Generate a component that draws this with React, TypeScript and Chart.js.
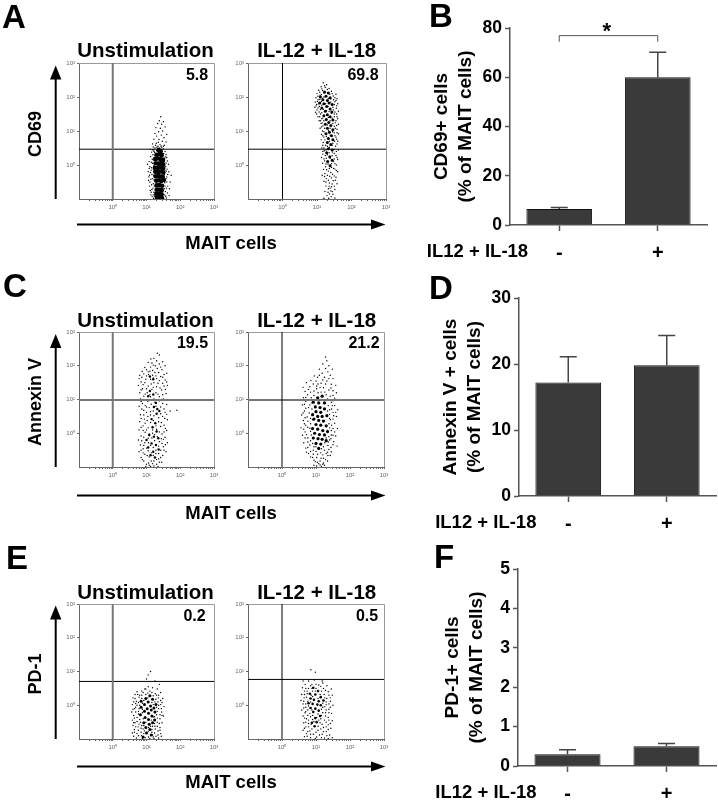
import React, { useEffect, useRef } from "react";
import { Chart, registerables } from "chart.js";

Chart.register(...registerables);

const FONT = '"Liberation Sans", Arial, sans-serif';

// Flow cytometry events, as [log10 x, log10 y].
const aLeftSparse = [[1.42,1.42],[1.38,1.3],[1.5,1.27],[1.45,1.2],[1.33,1.22],[1.28,1.1],[1.41,1.08],[1.55,1.12],[1.36,0.98],[1.48,1.0],[1.25,0.93],[1.6,0.9],[1.3,0.85],[1.44,0.88],[1.52,0.8],[1.22,0.76],[1.37,0.75],[1.47,0.7],[1.58,0.68],[1.18,0.62],[1.29,0.64],[1.4,0.6],[1.53,0.58],[1.34,0.55],[1.45,0.52],[1.25,0.5],[1.08,0.1],[1.05,-0.2],[1.1,-0.05],[1.12,0.25],[1.15,0.38],[1.13,-0.42],[1.09,-0.62],[1.14,-0.8],[1.17,-0.93],[1.18,0.05],[1.16,-0.28],[1.19,0.3],[1.2,-0.55],[1.11,-0.75],[1.07,-0.35],[1.21,-0.98],[1.58,0.3],[1.62,0.12],[1.55,0.4],[1.57,-0.05],[1.66,-0.2],[1.6,-0.35],[1.7,-0.5],[1.63,-0.62],[1.56,-0.78],[1.67,-0.9],[1.59,-0.97],[1.54,0.2],[1.61,-0.12],[1.65,0.02],[1.56,-0.45],[1.53,-0.7],[1.22,0.44],[1.5,0.47],[1.17,0.17],[1.14,-0.15],[1.19,-0.68],[1.22,0.4]];
const aLeftExtra = [[1.35,0.67],[1.43,0.56],[1.27,0.58],[1.5,0.55],[1.31,0.52],[1.2,0.53],[1.12,0.46],[1.18,0.45],[1.24,0.37],[1.56,0.24],[1.6,0.22],[1.53,0.1],[1.58,0.06],[1.54,-0.02],[1.59,-0.18],[1.53,-0.28],[1.55,-0.15],[1.63,-0.28],[1.58,-0.4],[1.54,-0.52],[1.6,-0.5],[1.55,-0.62],[1.59,-0.68],[1.54,-0.88],[1.62,-0.82],[1.57,-0.92],[1.2,0.15],[1.14,0.08],[1.22,-0.02],[1.15,-0.08],[1.2,-0.12],[1.12,-0.22],[1.21,-0.3],[1.09,-0.3],[1.18,-0.4],[1.22,-0.44],[1.1,-0.5],[1.15,-0.58],[1.23,-0.62],[1.16,-0.72],[1.22,-0.8],[1.13,-0.88],[1.2,-0.88],[1.24,-0.92],[1.25,0.28],[1.51,0.34],[1.46,0.46],[1.3,0.42],[1.39,0.5],[1.08,-0.1],[1.03,0.02],[1.06,-0.45],[1.68,-0.7],[1.73,-0.3]];
const aLeftCore = [[1.36,0.44],[1.42,0.4],[1.3,0.3],[1.38,0.32],[1.45,0.29],[1.26,0.18],[1.34,0.19],[1.42,0.17],[1.49,0.15],[1.27,0.05],[1.35,0.04],[1.43,0.06],[1.49,0.02],[1.25,-0.08],[1.33,-0.09],[1.41,-0.07],[1.49,-0.1],[1.26,-0.2],[1.34,-0.21],[1.42,-0.19],[1.5,-0.22],[1.27,-0.33],[1.35,-0.32],[1.43,-0.34],[1.48,-0.35],[1.29,-0.46],[1.37,-0.45],[1.44,-0.47],[1.51,-0.44],[1.3,-0.6],[1.38,-0.59],[1.46,-0.61],[1.3,-0.73],[1.37,-0.72],[1.45,-0.74],[1.29,-0.85],[1.37,-0.84],[1.45,-0.86],[1.31,-0.96],[1.38,-0.95],[1.46,-0.97]];
const aRightSparse = [[1.18,2.42],[1.28,2.36],[1.12,2.3],[1.24,2.28],[1.35,2.25],[1.05,2.2],[1.16,2.19],[1.42,2.17],[1.0,2.1],[1.3,2.12],[1.55,2.08],[1.09,2.05],[1.47,2.03],[0.97,1.98],[1.2,2.0],[1.58,1.95],[1.03,1.92],[1.4,1.94],[0.95,1.85],[1.13,1.87],[1.52,1.86],[1.6,1.8],[0.99,1.78],[1.25,1.8],[0.94,1.7],[1.07,1.72],[1.46,1.7],[1.56,1.67],[1.0,1.62],[1.18,1.64],[1.62,1.58],[0.96,1.55],[1.35,1.57],[1.1,1.5],[1.5,1.5],[1.03,1.42],[1.58,1.42],[1.14,1.36],[1.44,1.38],[1.06,1.3],[1.55,1.3],[1.12,1.22],[1.62,1.2],[1.17,1.15],[1.5,1.14],[1.09,1.08],[1.58,1.05],[1.16,1.0],[1.45,0.98],[1.62,0.92],[1.13,0.9],[1.2,0.82],[1.55,0.82],[1.12,0.74],[1.6,0.7],[1.18,0.66],[1.46,0.64],[1.25,0.58],[1.54,0.55],[1.14,0.5],[1.36,0.52],[1.62,0.44],[1.21,0.42],[1.45,0.38],[1.17,0.32],[1.3,0.3],[1.55,0.28],[1.13,0.22],[1.38,0.2],[1.6,0.16],[1.22,0.12],[1.48,0.1],[1.16,0.05],[1.32,0.03],[1.56,0.0],[1.25,-0.05],[1.42,-0.07],[1.19,-0.13],[1.52,-0.12],[1.33,-0.18],[1.6,-0.2],[1.23,-0.25],[1.45,-0.27],[1.15,-0.3],[1.37,-0.33],[1.55,-0.36],[1.27,-0.4],[1.2,-0.48],[1.47,-0.46],[1.36,-0.53],[1.58,-0.55],[1.26,-0.62],[1.42,-0.64],[1.33,-0.7],[1.52,-0.72],[1.23,-0.78],[1.4,-0.76],[1.36,-0.85],[1.46,-0.86],[1.29,-0.9],[1.41,-0.93],[1.52,-0.97],[1.2,-0.98],[1.34,-0.98]];
const aRightExtra = [[1.22,2.33],[1.14,2.24],[1.3,2.22],[1.08,2.14],[1.2,2.12],[1.37,2.08],[1.44,2.1],[1.03,2.02],[1.13,2.07],[1.52,1.98],[1.01,1.87],[1.08,1.93],[1.16,1.96],[1.33,1.95],[1.48,1.92],[1.55,1.9],[0.97,1.74],[1.05,1.8],[1.14,1.76],[1.4,1.85],[1.5,1.78],[1.57,1.74],[1.03,1.68],[1.1,1.63],[1.32,1.72],[1.48,1.62],[1.52,1.56],[0.99,1.5],[1.06,1.56],[1.14,1.54],[1.28,1.6],[1.42,1.52],[1.57,1.5],[1.08,1.42],[1.17,1.38],[1.33,1.4],[1.5,1.42],[1.6,1.36],[1.1,1.3],[1.2,1.3],[1.38,1.3],[1.53,1.24],[1.15,1.24],[1.3,1.18],[1.46,1.22],[1.57,1.16],[1.13,1.12],[1.22,1.08],[1.38,1.08],[1.53,1.08],[1.2,0.98],[1.33,1.02],[1.5,0.95],[1.58,0.95],[1.17,0.86],[1.27,0.84],[1.38,0.88],[1.52,0.86],[1.57,0.76],[1.23,0.74],[1.36,0.7],[1.51,0.7],[1.17,0.58],[1.3,0.55],[1.44,0.58],[1.58,0.62],[1.2,0.5],[1.5,0.46],[1.26,0.44],[1.56,0.4],[1.17,0.4],[1.35,0.36],[1.5,0.34],[1.24,0.28],[1.44,0.27],[1.58,0.22],[1.27,0.2],[1.5,0.18],[1.2,0.18],[1.42,0.04],[1.52,0.04],[1.26,0.03],[1.36,-0.1],[1.48,-0.1],[1.28,-0.14],[1.56,-0.16],[1.4,-0.22],[1.3,-0.3],[1.5,-0.32],[1.22,-0.34],[1.42,-0.38],[1.33,-0.45],[1.53,-0.45],[1.44,-0.56],[1.26,-0.5],[1.5,-0.62],[1.35,-0.62],[1.38,-0.68],[1.44,-0.78],[1.32,-0.8]];
const aRightCore = [[1.22,2.15],[1.33,2.12],[1.1,2.0],[1.26,2.02],[1.38,1.98],[1.17,1.92],[1.3,1.9],[1.08,1.82],[1.2,1.8],[1.35,1.82],[1.44,1.78],[1.28,1.72],[1.14,1.68],[1.38,1.65],[1.24,1.58],[1.43,1.56],[1.3,1.48],[1.2,1.45],[1.38,1.42],[1.27,1.34],[1.46,1.32],[1.34,1.25],[1.24,1.2],[1.4,1.16],[1.3,1.08],[1.46,1.04],[1.36,0.96],[1.26,0.92],[1.42,0.86],[1.33,0.78],[1.46,0.74],[1.3,0.66],[1.4,0.6],[1.33,0.48],[1.44,0.44],[1.28,0.36],[1.37,0.24],[1.44,0.14],[1.31,0.1],[1.38,-0.02]];
const cLeftSparse = [[1.32,2.37],[1.38,2.32],[1.22,2.22],[1.13,2.2],[1.3,2.15],[1.48,2.12],[1.05,2.1],[1.38,2.05],[1.2,2.02],[1.55,2.0],[0.95,1.95],[1.12,1.96],[1.32,1.92],[1.46,1.88],[0.87,1.83],[1.05,1.82],[1.25,1.8],[1.6,1.78],[0.8,1.72],[1.0,1.7],[1.18,1.72],[1.42,1.68],[0.78,1.62],[1.12,1.6],[1.3,1.62],[1.55,1.58],[0.84,1.52],[0.95,1.5],[1.22,1.5],[1.48,1.48],[1.62,1.42],[0.76,1.42],[1.05,1.4],[1.3,1.38],[0.88,1.32],[1.16,1.3],[1.45,1.28],[0.8,1.2],[1.02,1.2],[1.28,1.2],[1.58,1.18],[0.92,1.1],[1.12,1.08],[1.38,1.08],[0.82,1.02],[1.5,1.02],[1.04,0.95],[1.25,0.92],[0.88,0.88],[1.6,0.85],[0.78,0.8],[1.0,0.78],[1.42,0.78],[1.7,0.66],[0.92,0.68],[1.12,0.64],[1.55,0.62],[0.82,0.55],[1.04,0.5],[1.22,0.52],[1.48,0.5],[0.94,0.42],[1.62,0.4],[0.8,0.34],[1.12,0.32],[1.36,0.34],[1.52,0.24],[0.9,0.22],[1.05,0.16],[0.78,0.1],[1.3,0.12],[1.6,0.08],[0.96,0.03],[1.18,0.0],[1.46,-0.02],[0.84,-0.08],[1.55,-0.12],[1.05,-0.15],[0.76,-0.2],[0.95,-0.28],[1.38,-0.25],[1.62,-0.28],[0.82,-0.35],[1.12,-0.36],[1.5,-0.4],[0.9,-0.46],[1.05,-0.52],[1.42,-0.5],[0.78,-0.55],[1.58,-0.55],[0.95,-0.62],[1.28,-0.6],[1.48,-0.66],[0.84,-0.72],[1.08,-0.7],[1.36,-0.76],[0.92,-0.82],[1.22,-0.82],[1.45,-0.86],[1.0,-0.92],[1.3,-0.92],[1.12,-0.98],[1.22,-0.97]];
const cLeftExtra = [[1.16,2.08],[1.26,2.0],[1.42,1.96],[1.0,1.88],[1.1,1.84],[1.18,1.86],[1.36,1.8],[1.52,1.74],[0.92,1.76],[1.06,1.74],[1.28,1.7],[1.48,1.66],[0.86,1.66],[0.98,1.6],[1.2,1.64],[1.38,1.56],[1.6,1.52],[0.9,1.44],[1.14,1.46],[1.34,1.48],[1.52,1.4],[1.0,1.32],[1.2,1.36],[1.4,1.34],[1.56,1.3],[0.84,1.28],[1.1,1.14],[1.34,1.16],[1.48,1.14],[0.96,1.16],[1.22,1.02],[0.92,1.0],[1.06,0.98],[1.38,0.96],[1.58,0.98],[0.84,0.94],[1.14,0.86],[1.48,0.88],[0.96,0.82],[1.08,0.76],[1.28,0.8],[1.52,0.72],[0.86,0.72],[1.0,0.62],[1.2,0.66],[1.42,0.58],[1.6,0.56],[0.92,0.54],[1.12,0.54],[1.36,0.46],[1.54,0.44],[0.84,0.44],[1.02,0.38],[1.2,0.38],[1.44,0.32],[0.96,0.3],[1.28,0.22],[1.42,0.2],[1.56,0.14],[0.84,0.18],[1.0,0.1],[1.18,0.1],[1.38,0.04],[1.52,0.04],[0.9,0.08],[1.08,-0.02],[1.24,-0.04],[1.5,-0.18],[0.92,-0.12],[1.16,-0.14],[1.32,-0.1],[1.44,-0.16],[0.86,-0.22],[1.06,-0.28],[1.24,-0.22],[1.56,-0.34],[0.92,-0.36],[1.2,-0.42],[1.36,-0.38],[1.46,-0.3],[0.84,-0.5],[1.0,-0.44],[1.28,-0.5],[1.52,-0.5],[0.9,-0.58],[1.14,-0.58],[1.36,-0.6],[1.02,-0.66],[1.2,-0.66],[1.42,-0.72],[0.88,-0.78],[1.14,-0.82],[1.3,-0.78],[1.06,-0.88],[1.38,-0.86],[1.18,-0.9],[0.98,-0.98],[1.34,-0.98],[1.08,-0.95],[1.9,0.68]];
const cLeftCore = [[1.1,1.68],[1.2,1.6],[1.1,1.25],[1.05,1.1],[1.2,1.15],[1.28,0.9],[1.32,0.72],[1.22,0.78],[1.38,0.66],[1.3,0.58],[1.15,0.42],[1.26,0.3],[1.18,0.18],[1.3,0.05],[1.08,-0.05],[1.22,-0.1],[1.35,-0.15],[1.0,-0.2],[1.15,-0.3],[1.28,-0.35],[1.05,-0.42],[1.36,-0.48],[1.2,-0.55],[1.12,-0.65],[1.25,-0.72]];
const cRightSparse = [[1.28,2.26],[1.32,2.15],[1.2,2.05],[1.38,2.0],[1.28,1.92],[1.48,1.9],[1.1,1.9],[1.35,1.82],[1.18,1.78],[1.42,1.72],[0.95,1.7],[1.05,1.66],[1.25,1.66],[1.5,1.62],[0.85,1.56],[1.0,1.55],[1.32,1.55],[0.72,1.5],[1.15,1.48],[1.45,1.45],[1.58,1.42],[0.62,1.36],[0.82,1.38],[1.22,1.35],[0.68,1.24],[0.94,1.25],[1.38,1.28],[1.6,1.2],[0.75,1.14],[1.5,1.12],[0.63,1.05],[0.86,1.05],[1.62,1.0],[0.7,0.95],[1.45,0.92],[0.6,0.84],[1.55,0.82],[0.78,0.76],[1.64,0.7],[0.66,0.66],[1.5,0.62],[0.58,0.54],[0.74,0.48],[1.6,0.5],[0.63,0.38],[1.42,0.4],[1.55,0.3],[0.7,0.24],[0.56,0.16],[1.63,0.14],[1.45,0.08],[0.68,0.04],[0.6,-0.06],[1.58,-0.08],[0.76,-0.14],[1.4,-0.2],[1.52,-0.25],[0.64,-0.28],[0.82,-0.35],[1.35,-0.36],[1.62,-0.38],[0.7,-0.44],[0.92,-0.5],[1.25,-0.5],[1.45,-0.55],[0.78,-0.6],[1.05,-0.62],[1.35,-0.66],[0.9,-0.72],[1.15,-0.74],[1.28,-0.78],[0.98,-0.84],[1.08,-0.9],[1.22,-0.88],[1.02,-0.97],[1.16,-0.98],[1.25,-0.95],[1.3,-0.6],[0.88,0.9],[0.82,0.15],[0.86,-0.05],[1.4,0.7],[1.34,1.02],[0.9,0.4],[1.45,-0.05],[1.0,-0.4],[1.15,1.22],[1.02,1.4]];
const cRightExtra = [[1.1,1.72],[1.2,1.58],[1.38,1.62],[0.92,1.46],[1.06,1.46],[1.28,1.46],[0.78,1.3],[1.02,1.32],[1.12,1.36],[1.44,1.34],[0.84,1.22],[1.06,1.2],[1.26,1.22],[1.5,1.26],[0.7,1.06],[0.94,1.12],[1.3,1.14],[1.42,1.1],[1.55,1.04],[0.8,0.98],[1.12,1.0],[1.36,0.98],[1.5,0.96],[0.66,0.86],[0.82,0.84],[1.36,0.82],[1.48,0.82],[0.7,0.74],[0.88,0.72],[1.34,0.66],[1.46,0.72],[1.58,0.62],[0.62,0.6],[0.8,0.6],[1.4,0.56],[1.52,0.52],[0.68,0.46],[0.84,0.44],[1.4,0.44],[1.5,0.42],[0.76,0.36],[0.84,0.28],[1.38,0.28],[1.46,0.24],[0.66,0.28],[0.76,0.18],[1.4,0.16],[1.5,0.14],[0.64,0.12],[0.84,0.06],[1.34,0.08],[1.55,0.04],[0.72,-0.04],[1.38,-0.1],[1.5,-0.06],[0.68,-0.14],[0.84,-0.22],[1.3,-0.14],[1.44,-0.16],[0.76,-0.26],[1.26,-0.28],[1.36,-0.26],[1.5,-0.34],[0.9,-0.3],[1.22,-0.4],[1.44,-0.42],[0.76,-0.42],[0.94,-0.4],[1.16,-0.46],[1.38,-0.48],[0.84,-0.54],[1.0,-0.54],[1.14,-0.58],[1.34,-0.56],[0.72,-0.56],[0.92,-0.62],[1.2,-0.64],[1.42,-0.66],[0.84,-0.7],[1.02,-0.72],[1.22,-0.74],[0.94,-0.8],[1.12,-0.82],[1.34,-0.82],[1.04,-0.86],[1.2,-0.92],[1.12,-0.94],[0.94,-0.95]];
const cRightCore = [[1.05,1.05],[1.18,1.1],[0.92,0.92],[1.08,0.9],[1.25,0.9],[0.98,0.78],[1.12,0.76],[1.25,0.72],[1.0,0.64],[1.14,0.62],[0.9,0.55],[1.05,0.5],[1.18,0.5],[1.32,0.52],[0.94,0.42],[1.08,0.38],[1.22,0.36],[1.0,0.26],[1.14,0.24],[1.3,0.22],[0.9,0.14],[1.05,0.12],[1.2,0.08],[1.34,0.05],[0.96,0.0],[1.1,-0.04],[1.25,-0.05],[0.92,-0.14],[1.06,-0.16],[1.18,-0.18],[1.3,-0.22],[1.0,-0.3],[1.14,-0.32],[1.08,-0.45]];
const eLeftSparse = [[1.05,0.9],[1.12,1.0],[1.0,0.78],[1.25,0.72],[1.38,0.62],[1.05,0.55],[1.18,0.52],[0.95,0.48],[1.32,0.48],[0.72,0.4],[0.86,0.42],[1.1,0.42],[1.42,0.38],[0.66,0.32],[0.98,0.32],[1.26,0.34],[0.6,0.22],[0.78,0.24],[1.35,0.22],[1.48,0.2],[0.7,0.12],[0.92,0.14],[1.25,0.1],[0.58,0.02],[0.8,0.0],[1.42,0.02],[1.52,-0.04],[0.65,-0.1],[1.36,-0.1],[0.56,-0.2],[0.76,-0.18],[1.45,-0.2],[0.62,-0.3],[1.3,-0.28],[1.5,-0.32],[0.72,-0.36],[0.58,-0.44],[1.4,-0.4],[0.66,-0.52],[0.82,-0.5],[1.32,-0.5],[1.46,-0.52],[0.6,-0.6],[0.75,-0.64],[1.25,-0.62],[1.4,-0.66],[0.64,-0.72],[0.9,-0.7],[1.34,-0.76],[0.58,-0.82],[0.72,-0.84],[1.16,-0.8],[1.42,-0.84],[0.62,-0.92],[0.85,-0.9],[1.28,-0.92],[1.36,-0.97],[0.7,-0.97],[0.96,-0.96],[1.1,-0.98],[1.2,-0.94],[0.8,0.3],[0.9,-0.4],[1.2,-0.35],[0.86,-0.6],[0.98,0.48],[1.05,-0.78],[0.92,-0.84],[1.2,0.28],[0.68,0.05],[1.12,-0.62]];
const eLeftExtra = [[0.9,0.38],[1.04,0.36],[1.16,0.38],[1.3,0.3],[0.74,0.32],[0.86,0.3],[1.36,0.3],[0.66,0.2],[0.86,0.2],[1.04,0.22],[1.28,0.18],[1.42,0.14],[0.76,0.08],[1.16,0.08],[1.34,0.1],[0.62,0.1],[0.72,0.0],[0.88,0.06],[1.2,0.02],[1.36,0.0],[1.46,0.08],[0.68,-0.06],[0.78,-0.1],[1.3,-0.06],[1.44,-0.1],[0.6,-0.12],[0.68,-0.2],[0.88,-0.12],[1.32,-0.18],[1.4,-0.28],[0.76,-0.26],[0.88,-0.22],[1.24,-0.34],[1.46,-0.3],[0.64,-0.38],[0.8,-0.42],[1.14,-0.44],[1.32,-0.38],[0.72,-0.48],[0.98,-0.5],[1.24,-0.54],[1.38,-0.54],[0.62,-0.52],[0.78,-0.56],[0.92,-0.6],[1.18,-0.62],[1.32,-0.62],[0.68,-0.64],[0.84,-0.68],[1.06,-0.66],[1.26,-0.7],[0.76,-0.74],[0.94,-0.76],[1.16,-0.72],[1.4,-0.74],[0.64,-0.8],[0.84,-0.8],[1.24,-0.82],[0.76,-0.9],[1.06,-0.94],[1.18,-0.88],[1.34,-0.88],[0.88,-0.98],[1.22,-0.98],[1.44,-0.92]];
const eLeftCore = [[1.1,0.28],[0.98,0.2],[1.18,0.18],[0.84,0.12],[1.05,0.1],[1.28,0.02],[0.94,0.02],[1.12,-0.02],[1.22,-0.08],[0.84,-0.06],[1.02,-0.1],[1.14,-0.14],[0.94,-0.18],[1.25,-0.2],[1.06,-0.24],[0.82,-0.28],[1.16,-0.32],[0.96,-0.36],[1.06,-0.42],[1.24,-0.44],[0.92,-0.52],[1.08,-0.56],[1.18,-0.52],[0.98,-0.66],[1.1,-0.72],[1.0,-0.82],[1.14,-0.88],[0.9,-0.94]];
const eRightSparse = [[0.85,1.05],[0.98,0.98],[0.62,0.72],[0.78,0.72],[0.95,0.75],[1.18,0.72],[1.2,0.66],[0.68,0.62],[0.88,0.62],[1.08,0.6],[1.32,0.58],[0.6,0.52],[0.78,0.5],[1.0,0.5],[1.22,0.5],[1.45,0.48],[0.66,0.42],[0.9,0.42],[1.36,0.4],[0.58,0.32],[0.74,0.34],[1.12,0.32],[1.48,0.3],[0.65,0.22],[1.32,0.2],[0.56,0.14],[0.76,0.12],[1.42,0.12],[0.62,0.04],[1.3,0.02],[1.5,0.0],[0.7,-0.06],[1.2,-0.06],[0.58,-0.14],[1.38,-0.12],[0.68,-0.22],[0.82,-0.24],[1.28,-0.22],[1.46,-0.24],[0.62,-0.32],[1.16,-0.3],[1.36,-0.36],[0.72,-0.4],[0.9,-0.42],[1.25,-0.44],[1.48,-0.46],[0.64,-0.52],[0.78,-0.54],[1.12,-0.52],[1.36,-0.58],[0.7,-0.64],[0.95,-0.62],[1.22,-0.66],[1.44,-0.68],[0.62,-0.74],[0.82,-0.76],[1.06,-0.74],[1.3,-0.78],[0.72,-0.84],[0.92,-0.86],[1.18,-0.86],[1.4,-0.88],[0.66,-0.93],[0.84,-0.96],[1.02,-0.94],[1.25,-0.97],[1.36,-0.98],[1.48,-0.96],[0.9,-0.3],[1.02,-0.36],[0.86,0.3],[1.06,0.2]];
const eRightExtra = [[0.84,0.58],[1.0,0.62],[1.14,0.56],[0.7,0.5],[0.88,0.5],[1.28,0.44],[0.74,0.42],[0.98,0.42],[1.16,0.42],[0.66,0.32],[0.9,0.26],[1.24,0.32],[1.38,0.3],[0.72,0.24],[1.26,0.22],[1.42,0.22],[0.64,0.12],[0.84,0.1],[1.3,0.1],[0.7,0.04],[1.2,0.06],[1.38,0.04],[0.78,-0.02],[1.26,-0.04],[1.42,-0.06],[0.64,-0.08],[0.76,-0.14],[1.16,-0.12],[1.3,-0.14],[0.7,-0.18],[0.88,-0.14],[1.2,-0.22],[1.38,-0.22],[0.76,-0.3],[1.06,-0.26],[1.28,-0.32],[0.66,-0.38],[0.84,-0.34],[1.14,-0.4],[1.38,-0.44],[0.78,-0.44],[0.94,-0.48],[1.08,-0.44],[1.3,-0.5],[0.7,-0.5],[0.86,-0.56],[1.18,-0.56],[1.42,-0.54],[0.78,-0.64],[1.06,-0.62],[1.3,-0.64],[0.66,-0.68],[0.88,-0.7],[1.14,-0.7],[1.36,-0.72],[0.76,-0.78],[1.0,-0.8],[1.22,-0.78],[0.84,-0.86],[1.1,-0.88],[1.32,-0.9],[0.74,-0.92],[0.98,-0.98],[1.16,-0.96]];
const eRightCore = [[0.92,0.52],[1.06,0.42],[0.82,0.34],[0.98,0.32],[1.14,0.24],[0.84,0.2],[0.94,0.16],[1.08,0.12],[1.22,0.14],[0.78,0.06],[0.9,0.04],[1.04,0.02],[1.14,0.0],[0.84,-0.08],[0.98,-0.1],[1.08,-0.16],[0.92,-0.2],[1.12,-0.32],[0.98,-0.38],[1.02,-0.5],[0.96,-0.62],[0.88,-0.52]];

// Flow plot tick values and gates (gate positions are on the log10 scale).
const majorTicks = [1, 10, 100, 1000];
const minorXTicks = [0.2,0.3,0.4,0.5,0.6,0.7,0.8,0.9,2,3,4,5,6,7,8,9,20,30,40,50,60,70,80,90,200,300,400,500,600,700,800,900];
const tickLabels: Record<number, string> = { 1: "10⁰", 10: "10¹", 100: "10²", 1000: "10³" };
const gateYA = 0.465;
const gateYC = 0.985;
const gateYELeft = 0.706;
const gateYERight = 0.765;

// Bar panels.
const barCategories = ["-", "+"];
const cd69Values = [6.5, 60];
const cd69Errors = [7.1, 70.2];
const cd69Ticks = [0, 20, 40, 60, 80];
const annexinValues = [17.2, 19.8];
const annexinErrors = [21.1, 24.3];
const annexinTicks = [0, 10, 20, 30];
const pd1Values = [0.3, 0.5];
const pd1Errors = [0.41, 0.57];
const pd1Ticks = [0, 1, 2, 3, 4, 5];

const DARK = "#000";
const GREY = "#777";

function FlowPlot(p: any) {
  const ref = useRef<HTMLCanvasElement>(null);
  const padL = 22, padT = 8, padR = 8, padB = 18;
  const w = p.right - p.left, h = p.bottom - p.top;
  useEffect(() => {
    const toPts = (a: number[][]) => a.map(([x, y]) => ({ x: 10 ** x, y: 10 ** y }));
    const gate = (pts: any[], thick: boolean) => ({
      data: pts, showLine: true, pointRadius: 0, fill: false,
      borderColor: thick ? GREY : DARK, borderWidth: thick ? 2 : 1,
    });
    const frame = {
      id: "frame",
      beforeDatasetsDraw(c: any) {
        const a = c.chartArea, g = c.ctx;
        g.save(); g.strokeStyle = "#9a9a9a"; g.lineWidth = 1;
        g.beginPath();
        g.moveTo(a.left, a.top + 0.5); g.lineTo(a.right + 0.5, a.top + 0.5); g.lineTo(a.right + 0.5, a.bottom);
        g.stroke(); g.restore();
      },
    };
    const scale = (extra: number[], isX: boolean) => ({
      type: "logarithmic", min: 0.1, max: 1000,
      afterBuildTicks(ax: any) {
        ax.ticks = [...majorTicks, ...extra].sort((a, b) => a - b).map((value) => ({ value, major: majorTicks.includes(value) }));
      },
      afterFit(ax: any) { if (isX) ax.height = padB; else ax.width = padL; },
      grid: { drawOnChartArea: false, drawTicks: true, tickLength: 2, color: "#666", tickWidth: 1 },
      border: { color: "#666", width: 1 },
      ticks: {
        autoSkip: false, maxRotation: 0, minRotation: 0, padding: isX ? 3 : 2, color: "#666",
        font: { family: FONT, size: 6 },
        callback: (v: number) => tickLabels[v] ?? "",
      },
    });
    const chart = new Chart(ref.current!, {
      type: "scatter",
      data: {
        datasets: [
          gate([{ x: 1, y: 0.1 }, { x: 1, y: 1000 }], p.vThick),
          gate([{ x: 0.1, y: 10 ** p.gateY }, { x: 1000, y: 10 ** p.gateY }], p.hThick),
          { data: toPts(p.core), pointRadius: p.coreR, pointBorderWidth: 0, backgroundColor: "#000", borderWidth: 0 },
          { data: toPts([...p.sparse, ...p.extra]), pointRadius: 0.7, pointBorderWidth: 0, backgroundColor: "#000", borderWidth: 0 },
        ],
      } as any,
      options: {
        animation: false, responsive: false, devicePixelRatio: 1,
        layout: { padding: { left: 0, top: padT, right: padR, bottom: 0 } },
        plugins: { legend: { display: false }, tooltip: { enabled: false } },
        scales: { x: scale(minorXTicks, true), y: scale([], false) },
      } as any,
      plugins: [frame],
    });
    return () => chart.destroy();
  }, []);
  return (
    <canvas ref={ref} width={w + padL + padR} height={h + padT + padB}
      style={{ position: "absolute", left: p.left - padL, top: p.top - padT, width: w + padL + padR, height: h + padT + padB }} />
  );
}

function BarPlot(p: any) {
  const ref = useRef<HTMLCanvasElement>(null);
  const W = 718 - p.canvasLeft;
  useEffect(() => {
    const whiskers = {
      id: "whiskers",
      afterDatasetsDraw(c: any) {
        const g = c.ctx, xs = c.scales.x, ys = c.scales.y;
        g.save(); g.strokeStyle = "#444"; g.lineWidth = 1.5;
        p.values.forEach((v: number, i: number) => {
          const x = xs.getPixelForValue(i), y0 = ys.getPixelForValue(v), y1 = ys.getPixelForValue(p.errors[i]);
          g.beginPath();
          g.moveTo(x, y0); g.lineTo(x, y1);
          g.moveTo(x - 8.5, y1); g.lineTo(x + 8.5, y1);
          g.stroke();
        });
        if (p.bracket) {
          const [top, low] = p.bracket;
          const xa = xs.getPixelForValue(0), xb = xs.getPixelForValue(1);
          g.strokeStyle = "#555"; g.lineWidth = 1;
          g.beginPath();
          g.moveTo(xa, ys.getPixelForValue(low)); g.lineTo(xa, ys.getPixelForValue(top));
          g.lineTo(xb, ys.getPixelForValue(top)); g.lineTo(xb, ys.getPixelForValue(low));
          g.stroke();
        }
        g.restore();
      },
    };
    const chart = new Chart(ref.current!, {
      type: "bar",
      data: {
        labels: barCategories,
        datasets: [{ data: p.values, backgroundColor: "#3a3a3a", borderColor: "#111", borderWidth: 1, barPercentage: 0.667, categoryPercentage: 1 }],
      },
      options: {
        animation: false, responsive: false, devicePixelRatio: 1,
        layout: { padding: { left: 0, top: p.padTop, right: p.padRight, bottom: 0 } },
        plugins: { legend: { display: false }, tooltip: { enabled: false } },
        scales: {
          x: {
            afterFit(ax: any) { ax.height = p.axisH; },
            grid: { drawOnChartArea: false, offset: false, tickLength: 6, color: "#555", tickWidth: 1.5 },
            border: { color: "#555", width: 1.5 },
            ticks: { color: "#000", padding: 10, maxRotation: 0, font: { family: FONT, size: 20, weight: "bold" } },
          },
          y: {
            min: 0, max: p.ticks[p.ticks.length - 1],
            afterBuildTicks(ax: any) { ax.ticks = p.ticks.map((value: number) => ({ value })); },
            afterFit(ax: any) { ax.width = p.axisW; },
            grid: { drawOnChartArea: false, tickLength: 5, color: "#555", tickWidth: 1.5 },
            border: { color: "#555", width: 1.5 },
            ticks: { color: "#000", padding: 3, font: { family: FONT, size: 17.5, weight: "bold" } },
            title: { display: true, text: p.title, color: "#000", padding: 0, font: { family: FONT, size: 19, weight: "bold", lineHeight: 1.26 } },
          },
        },
      } as any,
      plugins: [whiskers],
    });
    return () => chart.destroy();
  }, []);
  return (
    <canvas ref={ref} width={W} height={p.canvasH}
      style={{ position: "absolute", left: p.canvasLeft, top: p.canvasTop, width: W, height: p.canvasH }} />
  );
}

function T({ x, y, size, rotate, children }: any) {
  return (
    <div style={{
      position: "absolute", left: x, top: y, whiteSpace: "nowrap", fontFamily: FONT, fontWeight: "bold",
      fontSize: size, lineHeight: 1, color: "#000",
      transform: `translate(-50%,-50%)${rotate ? " rotate(-90deg)" : ""}`,
    }}>{children}</div>
  );
}

const rows = [
  { arrowY: 224.5, nameY: 243, titleY: 49.5, vTip: 65.5, vEnd: 199 },
  { arrowY: 495.5, nameY: 513, titleY: 319.5, vTip: 334, vEnd: 467 },
  { arrowY: 766.5, nameY: 782, titleY: 591.5, vTip: 605.5, vEnd: 739 },
];

export default function App() {
  return (
    <div style={{ position: "absolute", left: 0, top: 0, width: 718, height: 800, background: "#fff", overflow: "hidden" }}>
      <FlowPlot left={79} right={214} top={63} bottom={199} sparse={aLeftSparse} extra={aLeftExtra} core={aLeftCore} coreR={2.3} gateY={gateYA} vThick hThick={false} />
      <FlowPlot left={248} right={386} top={63} bottom={199} sparse={aRightSparse} extra={aRightExtra} core={aRightCore} coreR={1.5} gateY={gateYA} vThick={false} hThick={false} />
      <FlowPlot left={79} right={214} top={332} bottom={467} sparse={cLeftSparse} extra={cLeftExtra} core={cLeftCore} coreR={1.2} gateY={gateYC} vThick hThick />
      <FlowPlot left={248} right={384} top={332} bottom={467} sparse={cRightSparse} extra={cRightExtra} core={cRightCore} coreR={1.6} gateY={gateYC} vThick={false} hThick />
      <FlowPlot left={79} right={214} top={604} bottom={739} sparse={eLeftSparse} extra={eLeftExtra} core={eLeftCore} coreR={1.5} gateY={gateYELeft} vThick hThick={false} />
      <FlowPlot left={248} right={384} top={604} bottom={739} sparse={eRightSparse} extra={eRightExtra} core={eRightCore} coreR={1.3} gateY={gateYERight} vThick={false} hThick={false} />

      <BarPlot canvasLeft={430} canvasTop={0} canvasH={270} padTop={28} padRight={11} axisW={80} axisH={45} values={cd69Values} errors={cd69Errors} ticks={cd69Ticks} title={["CD69+ cells", "(% of MAIT cells)"]} bracket={[76.9, 74.4]} />
      <BarPlot canvasLeft={439} canvasTop={270} canvasH={270} padTop={28} padRight={2} axisW={80} axisH={44} values={annexinValues} errors={annexinErrors} ticks={annexinTicks} title={["Annexin V + cells", "(% of MAIT cells)"]} />
      <BarPlot canvasLeft={441} canvasTop={540} canvasH={260} padTop={29} padRight={2} axisW={77} axisH={34} values={pd1Values} errors={pd1Errors} ticks={pd1Ticks} title={["PD-1+ cells", "(% of MAIT cells)"]} />

      <svg width={718} height={800} style={{ position: "absolute", left: 0, top: 0, pointerEvents: "none" }}>
        {rows.map((r, i) => (
          <g key={i} fill="#000" stroke="none">
            <rect x={77} y={r.arrowY - 1} width={296} height={2} />
            <polygon points={`${371},${r.arrowY - 5} ${385.5},${r.arrowY} ${371},${r.arrowY + 5}`} />
            <rect x={54.7} y={r.vTip + 10} width={2} height={r.vEnd - r.vTip - 10} />
            <polygon points={`${50},${r.vTip + 14} ${55.7},${r.vTip} ${61.4},${r.vTip + 14}`} />
          </g>
        ))}
      </svg>

      <T x={14} y={16} size={33}>A</T>
      <T x={441} y={15} size={33}>B</T>
      <T x={15} y={285} size={33}>C</T>
      <T x={441} y={287} size={33}>D</T>
      <T x={17} y={557} size={33}>E</T>
      <T x={444} y={556} size={33}>F</T>

      {rows.map((r, i) => (
        <React.Fragment key={i}>
          <T x={145.5} y={r.titleY} size={20.5}>Unstimulation</T>
          <T x={316.7} y={r.titleY} size={20.5}>IL-12 + IL-18</T>
          <T x={231} y={r.nameY} size={18.5}>MAIT cells</T>
        </React.Fragment>
      ))}

      <T x={197} y={75} size={16}>5.8</T>
      <T x={363} y={75} size={16}>69.8</T>
      <T x={192.5} y={343} size={16}>19.5</T>
      <T x={364} y={343} size={16}>21.2</T>
      <T x={194.5} y={616} size={16}>0.2</T>
      <T x={367} y={616} size={16}>0.5</T>

      <T x={35} y={134} size={18} rotate>CD69</T>
      <T x={35} y={401.7} size={18} rotate>Annexin V</T>
      <T x={35} y={674} size={18} rotate>PD-1</T>

      <T x={606.7} y={31} size={22}>*</T>
      <T x={477.5} y={251} size={18.5}>IL12 + IL-18</T>
      <T x={485.8} y={522} size={18.5}>IL12 + IL-18</T>
      <T x={486} y={792} size={18.5}>IL12 + IL-18</T>
    </div>
  );
}
